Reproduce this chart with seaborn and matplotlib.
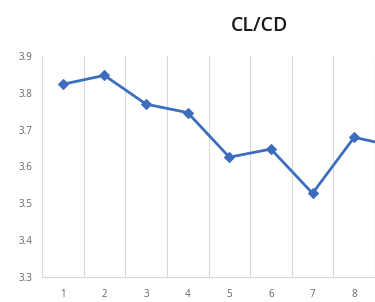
import matplotlib
matplotlib.use("Agg")
import matplotlib.pyplot as plt
import seaborn as sns
import pandas as pd
import numpy as np

categories = [1, 2, 3, 4, 5, 6, 7, 8, 9]
cl_cd = [3.823, 3.847, 3.769, 3.746, 3.625, 3.647, 3.527, 3.679, 3.654]
y_ticks = [3.3, 3.4, 3.5, 3.6, 3.7, 3.8, 3.9]
x_ticks = [1, 2, 3, 4, 5, 6, 7, 8]
title = "CL/CD"

sns.set_theme(style="white")
plt.rcParams['font.family'] = ['Open Sans', 'DejaVu Sans']

df = pd.DataFrame({"x": categories, "y": cl_cd})

fig = plt.figure(figsize=(3.75, 3.02), dpi=100)
ax = fig.add_axes([0.112, 0.083, 0.888, 0.732])
sns.lineplot(data=df, x="x", y="y", ax=ax, color="#3C6DBF", linewidth=2,
             marker="D", markersize=5.5, markeredgecolor="#3C6DBF")

ax.set_xlim(0.5, 8.47)
ax.set_ylim(3.3, 3.9)
ax.set_yticks(y_ticks)
ax.set_yticklabels([f"{v:.1f}" for v in y_ticks])
ax.set_xticks(x_ticks)
ax.set_xticklabels([str(v) for v in x_ticks])
ax.set_xticks([v + 0.5 for v in range(0, 9)], minor=True)
ax.grid(False)
ax.grid(True, which="minor", axis="x", color="#D9D9D9", linewidth=0.8)
ax.tick_params(axis="both", which="both", length=0, colors="#666666", labelsize=7)
ax.tick_params(axis="y", pad=7)
ax.tick_params(axis="x", pad=9)
for s in ["top", "right", "left"]:
    ax.spines[s].set_visible(False)
ax.spines["bottom"].set_color("#D9D9D9")
ax.spines["bottom"].set_linewidth(0.8)
ax.set_xlabel("")
ax.set_ylabel("")

fig.text(0.693, 0.915, title, ha="center", va="center", fontsize=14,
         color="#1A1A1A", fontweight="semibold")

fig.savefig("out.png", dpi=100)
